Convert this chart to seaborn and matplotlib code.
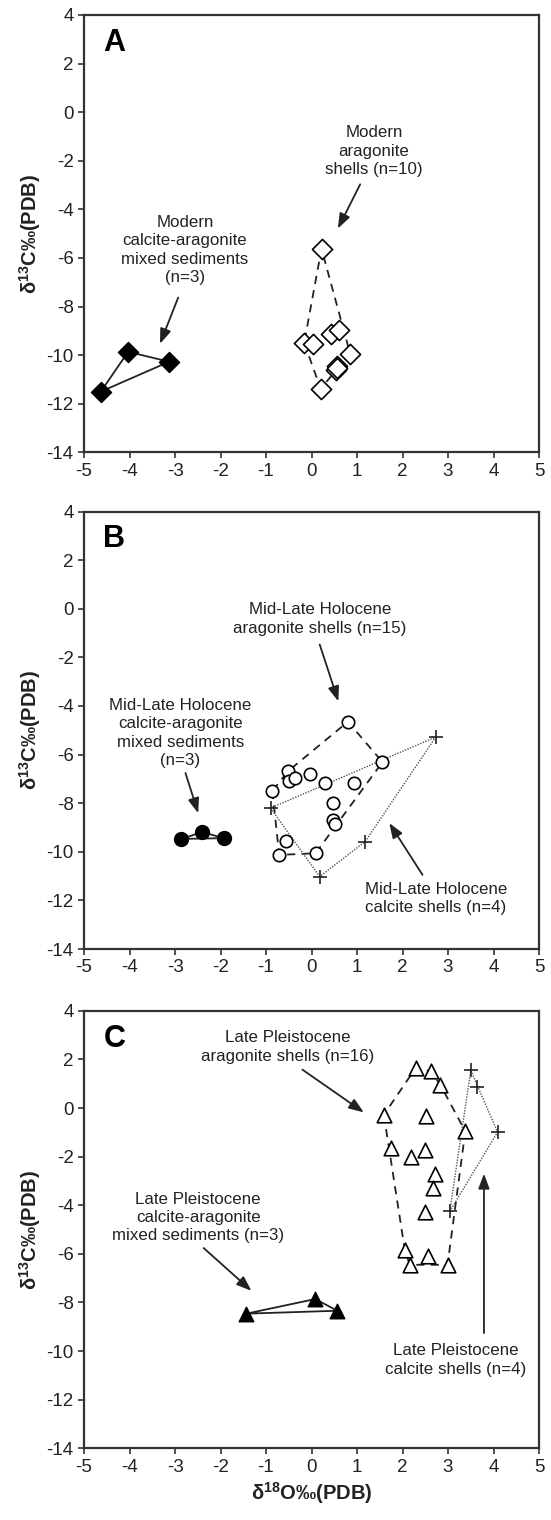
import numpy as np
import pandas as pd
import matplotlib
matplotlib.use("Agg")
import matplotlib.pyplot as plt
import seaborn as sns

# ---------------- data ----------------
# Panel A (Modern)
a_mix_x = [-4.63, -4.03, -3.13]
a_mix_y = [-11.50, -9.86, -10.27]
a_arag_x = [0.22, -0.16, 0.04, 0.42, 0.61, 0.85, 0.57, 0.54, 0.20, 0.55]
a_arag_y = [-5.62, -9.49, -9.56, -9.14, -8.98, -9.94, -10.45, -10.61, -11.38, -10.52]

# Panel B (Mid-Late Holocene)
b_mix_x = [-2.86, -2.40, -1.93]
b_mix_y = [-9.47, -9.19, -9.44]
b_arag_x = [0.80, 1.56, -0.52, -0.50, -0.37, -0.04, 0.30, 0.94, -0.86, 0.48, 0.47, 0.52, -0.55, -0.71, 0.09]
b_arag_y = [-4.65, -6.31, -6.69, -7.08, -6.97, -6.80, -7.19, -7.19, -7.50, -7.98, -8.69, -8.85, -9.56, -10.13, -10.06]
b_calc_x = [2.73, -0.90, 0.18, 1.18]
b_calc_y = [-5.28, -8.20, -11.02, -9.58]

# Panel C (Late Pleistocene)
c_mix_x = [-1.43, 0.08, 0.57]
c_mix_y = [-8.46, -7.86, -8.34]
c_arag_x = [2.29, 2.62, 2.83, 1.59, 2.51, 3.38, 1.74, 2.50, 2.18, 2.72, 2.66, 2.50, 2.05, 2.55, 2.16, 2.99]
c_arag_y = [1.65, 1.51, 0.96, -0.28, -0.34, -0.96, -1.65, -1.72, -2.02, -2.72, -3.31, -4.28, -5.83, -6.10, -6.45, -6.45]
c_calc_x = [3.50, 3.63, 4.09, 3.04]
c_calc_y = [1.55, 0.86, -0.99, -4.25]

x_ticks = [-5, -4, -3, -2, -1, 0, 1, 2, 3, 4, 5]
y_ticks = [4, 2, 0, -2, -4, -6, -8, -10, -12, -14]
panel_letters = ["A", "B", "C"]
x_label = "δ$^{18}$O‰(PDB)"
y_label = "δ$^{13}$C‰(PDB)"

# annotations: (text, text_xy, arrow_start, arrow_end)
a_notes = [
    ("Modern\ncalcite-aragonite\nmixed sediments\n(n=3)", (-2.78, -5.67), (-2.93, -7.63), (-3.33, -9.53)),
    ("Modern\naragonite\nshells (n=10)", (1.37, -1.60), (1.07, -2.97), (0.58, -4.79)),
]
b_notes = [
    ("Mid-Late Holocene\naragonite shells (n=15)", (0.18, -0.43), (0.18, -1.47), (0.59, -3.81)),
    ("Mid-Late Holocene\ncalcite-aragonite\nmixed sediments\n(n=3)", (-2.88, -5.12), (-2.77, -6.76), (-2.49, -8.41)),
    ("Mid-Late Holocene\ncalcite shells (n=4)", (2.73, -11.93), (2.44, -10.95), (1.71, -8.82)),
]
c_notes = [
    ("Late Pleistocene\naragonite shells (n=16)", (-0.53, 2.51), (-0.20, 1.58), (1.15, -0.18)),
    ("Late Pleistocene\ncalcite-aragonite\nmixed sediments (n=3)", (-2.49, -4.50), (-2.37, -5.76), (-1.32, -7.52)),
    ("Late Pleistocene\ncalcite shells (n=4)", (3.17, -10.37), (3.79, -9.26), (3.79, -2.70)),
]

# ---------------- style ----------------
sns.set_theme(style="white")
plt.rcParams["font.family"] = ["Liberation Sans", "DejaVu Sans"]
plt.rcParams["mathtext.fontset"] = "custom"
plt.rcParams["mathtext.rm"] = "Liberation Sans:bold"
plt.rcParams["mathtext.bf"] = "Liberation Sans:bold"
plt.rcParams["mathtext.default"] = "bf"

INK = "#222222"
SPINE = "#333333"


def hull(xs, ys):
    pts = sorted(set(zip(xs, ys)))
    if len(pts) < 3:
        return pts

    def cross(o, a, b):
        return (a[0] - o[0]) * (b[1] - o[1]) - (a[1] - o[1]) * (b[0] - o[0])

    lower = []
    for p in pts:
        while len(lower) >= 2 and cross(lower[-2], lower[-1], p) <= 0:
            lower.pop()
        lower.append(p)
    upper = []
    for p in reversed(pts):
        while len(upper) >= 2 and cross(upper[-2], upper[-1], p) <= 0:
            upper.pop()
        upper.append(p)
    h = lower[:-1] + upper[:-1]
    h.append(h[0])
    return h


def draw_hull(ax, xs, ys, **kw):
    h = hull(xs, ys)
    hx = [p[0] for p in h]
    hy = [p[1] for p in h]
    ax.plot(hx, hy, zorder=2, **kw)


SOLID = dict(color=INK, lw=1.3, ls="-")
DASH = dict(color=INK, lw=1.3, ls=(0, (4.5, 3.5)))
DOT = dict(color="#555555", lw=1.0, ls=(0, (1, 1)))

fig = plt.figure(figsize=(5.51, 15.20), dpi=100)
left, width = 84 / 551, (539 - 84) / 551
bottoms = [1 - 452.4 / 1520, 1 - 949 / 1520, 1 - 1448.3 / 1520]
height = 437.5 / 1520
axes = [fig.add_axes([left, b, width, height]) for b in bottoms]


def style_axis(ax, letter, show_xlabel):
    ax.set_xlim(-5, 5)
    ax.set_ylim(-14, 4)
    ax.set_xticks(x_ticks)
    ax.set_yticks(y_ticks)
    ax.set_xticklabels([str(t) for t in x_ticks])
    ax.set_yticklabels([str(t) for t in y_ticks])
    for s in ax.spines.values():
        s.set_visible(True)
        s.set_color(SPINE)
        s.set_linewidth(1.6)
    ax.tick_params(axis="both", direction="out", length=4.5, width=1.2, color=SPINE,
                   labelsize=13.5, labelcolor=INK, pad=3,
                   bottom=True, left=True, top=False, right=False)
    ax.set_ylabel(y_label, fontsize=14.5, fontweight="bold", color=INK)
    ax.yaxis.set_label_coords(-0.09, 0.5)
    if show_xlabel:
        ax.set_xlabel(x_label, fontsize=14.5, fontweight="bold", color=INK, labelpad=3)
    else:
        ax.set_xlabel("")
    ax.text(-4.33, 2.85, letter, fontsize=22, fontweight="bold", color="black",
            ha="center", va="center")


def notes(ax, items):
    for txt, txy, a0, a1 in items:
        ax.text(txy[0], txy[1], txt, ha="center", va="center", fontsize=12.2,
                color=INK, linespacing=1.28)
        ax.annotate("", xy=a1, xytext=a0,
                    arrowprops=dict(arrowstyle="-|>,head_length=0.75,head_width=0.28",
                                    color=INK, lw=1.3, shrinkA=0, shrinkB=0,
                                    mutation_scale=12))


# Panel A
ax = axes[0]
draw_hull(ax, a_mix_x, a_mix_y, **SOLID)
draw_hull(ax, a_arag_x, a_arag_y, **DASH)
sns.scatterplot(x=a_mix_x, y=a_mix_y, marker="D", s=105, color="black",
                edgecolor="black", linewidth=1, ax=ax, zorder=3)
sns.scatterplot(x=a_arag_x, y=a_arag_y, marker="D", s=105, color="white",
                edgecolor="black", linewidth=1.2, ax=ax, zorder=3)
notes(ax, a_notes)
style_axis(ax, panel_letters[0], False)

# Panel B
ax = axes[1]
draw_hull(ax, b_mix_x, b_mix_y, **SOLID)
draw_hull(ax, b_arag_x, b_arag_y, **DASH)
draw_hull(ax, b_calc_x, b_calc_y, **DOT)
sns.scatterplot(x=b_mix_x, y=b_mix_y, marker="o", s=100, color="black",
                edgecolor="black", linewidth=1, ax=ax, zorder=3)
sns.scatterplot(x=b_arag_x, y=b_arag_y, marker="o", s=80, color="white",
                edgecolor="black", linewidth=1.2, ax=ax, zorder=3)
sns.scatterplot(x=b_calc_x, y=b_calc_y, marker="+", s=90, color=INK,
                linewidth=1.2, ax=ax, zorder=4)
notes(ax, b_notes)
style_axis(ax, panel_letters[1], False)

# Panel C
ax = axes[2]
draw_hull(ax, c_mix_x, c_mix_y, **SOLID)
draw_hull(ax, c_arag_x, c_arag_y, **DASH)
draw_hull(ax, c_calc_x, c_calc_y, **DOT)
sns.scatterplot(x=c_mix_x, y=c_mix_y, marker="^", s=110, color="black",
                edgecolor="black", linewidth=1, ax=ax, zorder=3)
sns.scatterplot(x=c_arag_x, y=c_arag_y, marker="^", s=110, color="white",
                edgecolor="black", linewidth=1.2, ax=ax, zorder=3)
sns.scatterplot(x=c_calc_x, y=c_calc_y, marker="+", s=90, color=INK,
                linewidth=1.2, ax=ax, zorder=4)
notes(ax, c_notes)
style_axis(ax, panel_letters[2], True)

fig.savefig("out.png", dpi=100)
